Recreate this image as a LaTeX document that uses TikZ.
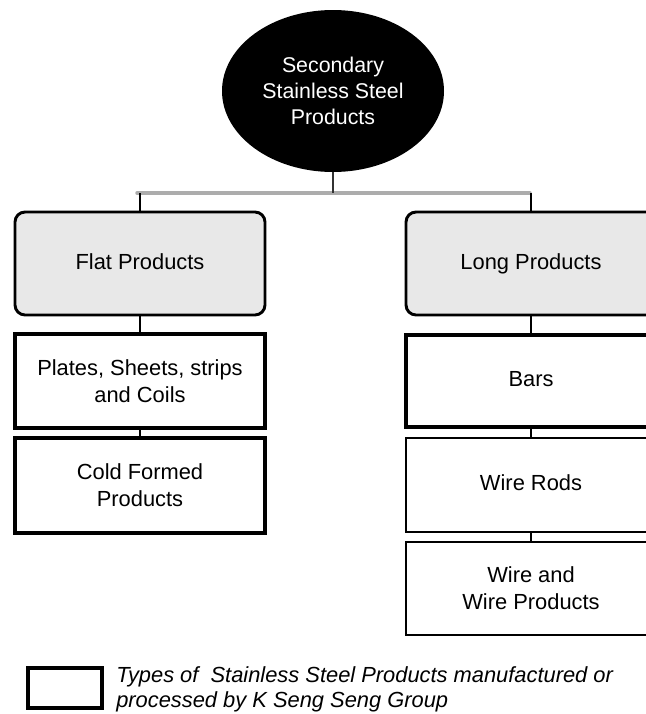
\documentclass[tikz,border=0pt]{standalone}
\usepackage{fontspec}
\setmainfont{Liberation Sans}
\usetikzlibrary{shapes.geometric}
\begin{document}
\begin{tikzpicture}[x=0.75pt,y=-0.75pt,
  every node/.style={font=\fontsize{16.4}{20.25}\selectfont, align=center, inner sep=0pt},
  oneline/.style={text height=11.8pt, text depth=3.4pt},
  rootnode/.style={ellipse, fill=black, text=white, minimum width=166.5pt, minimum height=121.5pt, font=\fontsize{16}{19.5}\selectfont},
  catbox/.style={rectangle, rounded corners=7.5pt, draw=black, line width=2.2pt, fill=gray!18, minimum width=187.5pt, minimum height=77.25pt, oneline},
  mainbox/.style={rectangle, draw=black, line width=2.8pt, fill=white, minimum width=187.5pt},
  otherbox/.style={rectangle, draw=black, line width=1.2pt, fill=white, minimum width=187.5pt},
  conn/.style={draw=black, line width=0.8pt},
  bus/.style={draw=gray!65, line width=2.6pt, line cap=round}
]
\clip (0,0) rectangle (646,714);
\fill[white] (0,0) rectangle (646,714);

\node[rootnode] (root) at (333,91) {Secondary\\Stainless Steel\\Products};

\node[catbox] (flat) at (140,263.5) {Flat Products};
\node[catbox] (long) at (531,263.5) {Long Products};

\node[mainbox, minimum height=70.5pt] (plates) at (140,381) {Plates, Sheets, strips\\and Coils};
\node[mainbox, minimum height=71.25pt] (cold) at (140,485.5) {Cold Formed\\Products};

\node[mainbox, minimum height=69pt, oneline] (bars) at (531,381) {Bars};
\node[otherbox, minimum height=70.5pt, oneline] (rods) at (531,485) {Wire Rods};
\node[otherbox, minimum height=69.75pt] (wire) at (531,588.5) {Wire and\\Wire Products};

\coordinate (hl) at (137,193);
\coordinate (hr) at (530,193);
\coordinate (jl) at (140,193);
\coordinate (jr) at (531,193);

\draw[bus] (hl) -- (hr);
\draw[conn, line width=1.2pt, draw=black!80] (root.south) -- (root.south |- hl);
\draw[conn] (jl) -- (flat.north);
\draw[conn] (jr) -- (long.north);
\draw[conn] (flat.south) -- (plates.north);
\draw[conn] (plates.south) -- (cold.north);
\draw[conn, line width=1.5pt] (long.south) -- (bars.north);
\draw[conn, line width=1.5pt] (bars.south) -- (rods.north);
\draw[conn, line width=1.5pt] (rods.south) -- (wire.north);

\node[rectangle, draw=black, line width=2.5pt, minimum width=55.5pt, minimum height=30pt] (legbox) at (65,688) {};
\node[anchor=west, align=left, font=\fontsize{16.4}{18.75}\selectfont\itshape] (legtext) at (116,689.5) {Types of~~Stainless Steel Products manufactured or\\processed by K Seng Seng Group};
\end{tikzpicture}
\end{document}
